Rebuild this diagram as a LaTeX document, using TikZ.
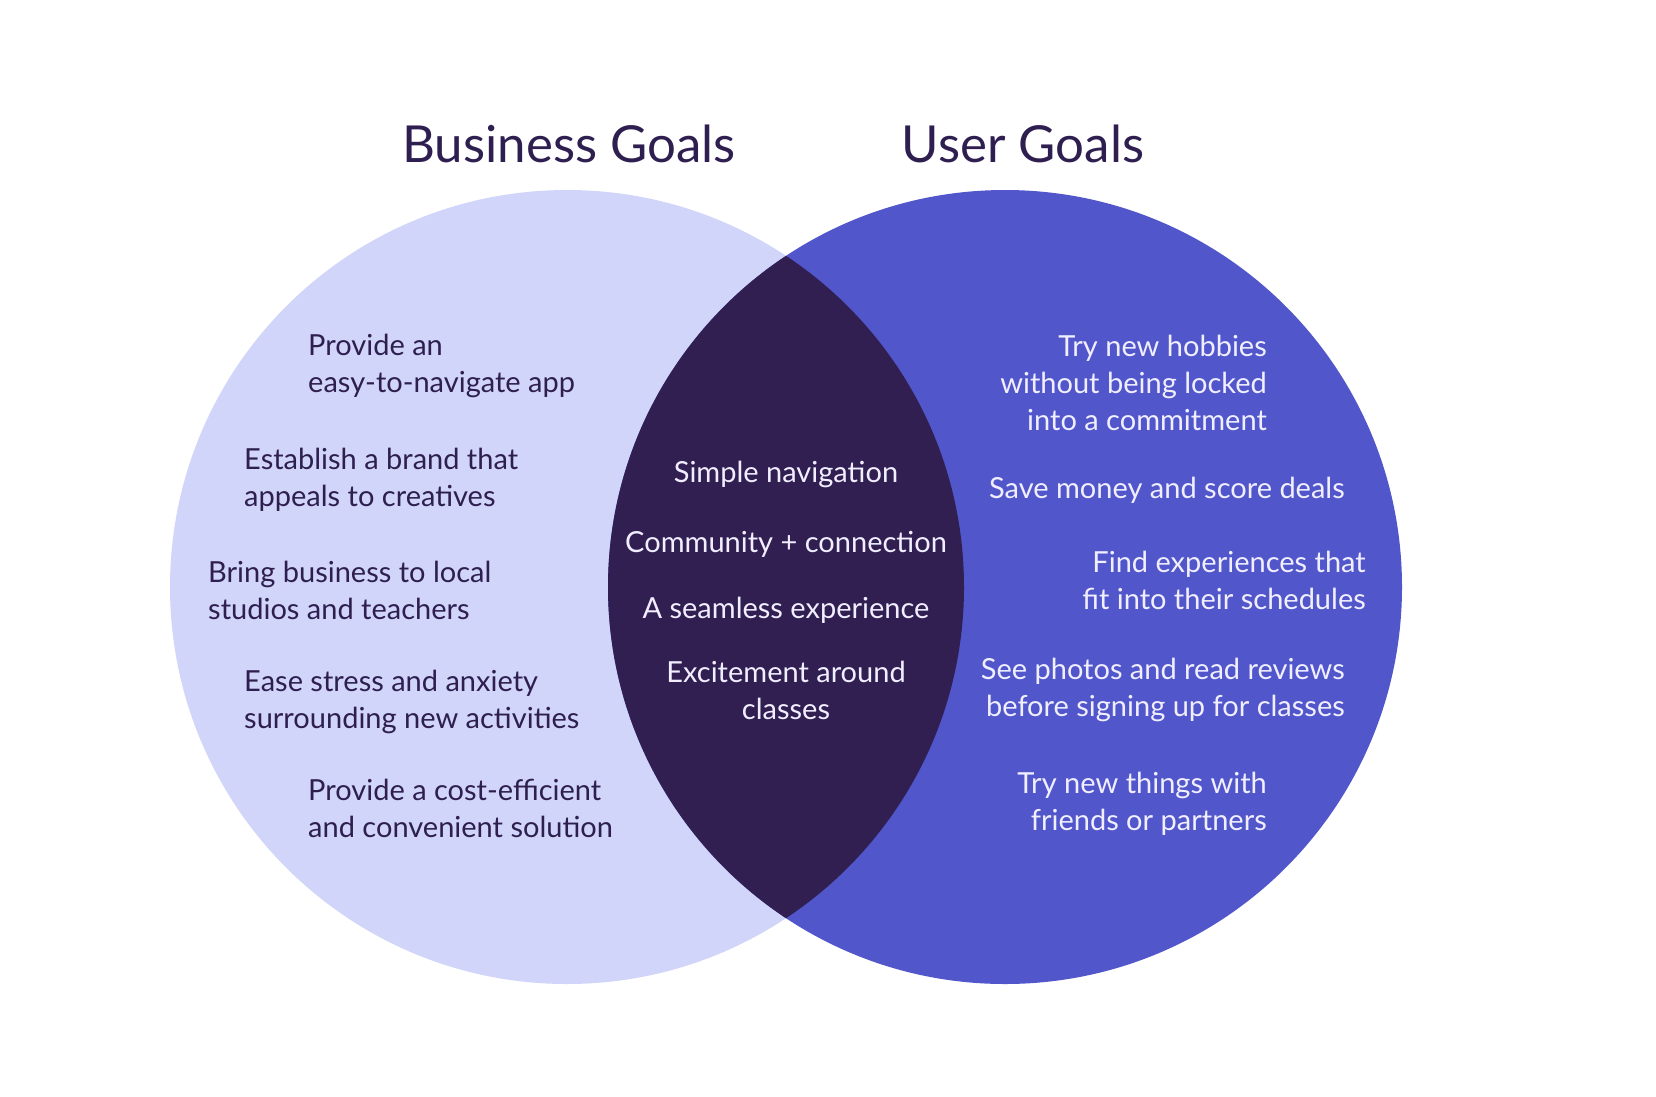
\documentclass[tikz,border=0pt]{standalone}
\usepackage{fontspec}
\setmainfont{Lato}
\definecolor{bizlight}{RGB}{208, 213, 249}
\definecolor{userblue}{RGB}{81, 87, 203}
\definecolor{overlapdark}{RGB}{49, 31, 82}
\definecolor{inktext}{RGB}{46, 31, 80}
\definecolor{paletext}{RGB}{240, 238, 255}
\usepackage{tikz}
\usetikzlibrary{positioning}
\tikzset{
  goaltitle/.style={font=\fontsize{51}{60}\selectfont, text=inktext, inner sep=0pt},
  bizitem/.style={font=\fontsize{29}{37}\selectfont, text=inktext, align=left, anchor=west, inner sep=0pt},
  useritem/.style={font=\fontsize{29}{37}\selectfont, text=paletext, align=right, anchor=east, inner sep=0pt},
  shareditem/.style={font=\fontsize{29}{37}\selectfont, text=paletext, align=center, inner sep=0pt}
}

\begin{document}
\begin{tikzpicture}[x=1pt, y=-1pt]
  \useasboundingbox[fill=white] (0,0) rectangle (1656,1096);

  % Circles
  \fill[bizlight] (567,587) circle[radius=397];
  \fill[userblue] (1005,587) circle[radius=397];
  \begin{scope}
    \clip (567,587) circle[radius=397];
    \fill[overlapdark] (1005,587) circle[radius=397];
  \end{scope}

  % Titles
  \node[goaltitle] (biztitle) at (569,144) {Business Goals};
  \node[goaltitle] (usertitle) at (1023,144) {User Goals};

  % Business goals
  \node[bizitem] (easyapp) at (308,366) {Provide an\\easy-to-navigate app};
  \node[bizitem] (brand) at (244,480) {Establish a brand that\\appeals to creatives};
  \node[bizitem] (local) at (208,590) {Bring business to local\\studios and teachers};
  \node[bizitem] (stress) at (244,702) {Ease stress and anxiety\\surrounding new activities};
  \node[bizitem] (costeff) at (308,808) {Provide a cost-efficient\\and convenient solution};

  % Shared goals
  \node[shareditem] (simplenav) at (786,474) {Simple navigation};
  \node[shareditem] (community) at (786,544) {Community + connection};
  \node[shareditem] (seamless) at (786,610) {A seamless experience};
  \node[shareditem] (excite) at (786,690) {Excitement around\\classes};

  % User goals
  \node[useritem] (hobbies) at (1267,383) {Try new hobbies\\without being locked\\into a commitment};
  \node[useritem] (deals) at (1345,490) {Save money and score deals};
  \node[useritem] (schedule) at (1366,580) {Find experiences that\\fit into their schedules};
  \node[useritem] (reviews) at (1345,690) {See photos and read reviews\\before signing up for classes};
  \node[useritem] (friends) at (1267,804) {Try new things with\\friends or partners};
\end{tikzpicture}
\end{document}
